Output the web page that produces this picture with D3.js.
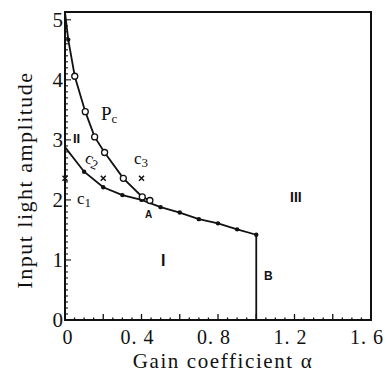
<!DOCTYPE html>
<html>
<head>
<meta charset="utf-8">
<script src="https://cdn.jsdelivr.net/npm/d3@7"></script>
<style>
  body { margin: 0; background: #fff; }
  svg { display: block; }
  text { font-family: "Liberation Serif", "DejaVu Serif", serif; fill: #111; }
  .lbl { font-family: "Liberation Sans", Arial, sans-serif; font-weight: bold; }
</style>
</head>
<body>
<svg id="chart"></svg>
<script>
// critical input amplitude curve Pc (open circles)
const pcAlpha = [0, 0.017, 0.051, 0.106, 0.155, 0.207, 0.305, 0.404, 0.444];
const pcAmp   = [5.13, 4.67, 4.06, 3.47, 3.05, 2.79, 2.36, 2.05, 1.99];

// lower boundary C1 (filled dots), ends at B
const c1Alpha = [0, 0.1, 0.2, 0.3, 0.4, 0.5, 0.6, 0.7, 0.8, 0.9, 1.0];
const c1Amp   = [2.88, 2.47, 2.21, 2.08, 2.0, 1.88, 1.79, 1.68, 1.61, 1.51, 1.42];

// crosses
const crossAlpha = [0, 0.2, 0.4];
const crossAmp   = [2.36, 2.36, 2.36];

const xTickLabels = [0, 0.4, 0.8, 1.2, 1.6];
const yTickLabels = [0, 1, 2, 3, 4, 5];

const width = 387, height = 372;
const margin = {top: 12, right: 16, bottom: 52, left: 65};

const svg = d3.select('#chart')
    .attr('width', width)
    .attr('height', height);

const x = d3.scaleLinear().domain([0, 1.6]).range([margin.left, width - margin.right]);
const y = d3.scaleLinear().domain([0, 5.13]).range([height - margin.bottom, margin.top]);

const ink = '#111';

// frame
svg.append('rect')
    .attr('x', x(0)).attr('y', y(5.13))
    .attr('width', x(1.6) - x(0)).attr('height', y(0) - y(5.13))
    .attr('fill', 'none').attr('stroke', ink).attr('stroke-width', 2);

// ticks pointing inward
const xMinor = d3.range(0.05, 1.6, 0.05);
svg.append('g').selectAll('line').data(xMinor).enter().append('line')
    .attr('x1', d => x(d)).attr('x2', d => x(d))
    .attr('y1', y(0))
    .attr('y2', d => y(0) - (Math.abs(d / 0.2 - Math.round(d / 0.2)) < 0.01 ? 6 : 2.5))
    .attr('stroke', ink).attr('stroke-width', 1.3);

const yMinor = d3.range(0.1, 5.05, 0.1);
svg.append('g').selectAll('line').data(yMinor).enter().append('line')
    .attr('y1', d => y(d)).attr('y2', d => y(d))
    .attr('x1', x(0))
    .attr('x2', d => x(0) + (Math.abs(d - Math.round(d)) < 0.01 ? 6 : 3))
    .attr('stroke', ink).attr('stroke-width', 1.1);

// tick labels
svg.append('g').selectAll('text').data(xTickLabels).enter().append('text')
    .attr('x', d => x(d))
    .attr('dx', d => d ? -4 : 3)
    .attr('y', 344)
    .attr('text-anchor', 'middle')
    .attr('font-size', 20)
    .attr('letter-spacing', 1)
    .text(d => d === 0 ? '0' : d.toFixed(1).replace('.', '. '));

svg.append('g').selectAll('text').data(yTickLabels).enter().append('text')
    .attr('x', 63)
    .attr('y', d => y(d) + 7)
    .attr('text-anchor', 'end')
    .attr('font-size', 21)
    .text(d => d);

// axis titles
svg.append('text')
    .attr('x', 223).attr('y', 368)
    .attr('text-anchor', 'middle')
    .attr('font-size', 21)
    .attr('letter-spacing', 1.6)
    .text('Gain coefficient α');

svg.append('text')
    .attr('transform', 'translate(32,180) rotate(-90)')
    .attr('text-anchor', 'middle')
    .attr('font-size', 22)
    .attr('letter-spacing', 1.5)
    .text('Input light amplitude');

const line = d3.line().x(d => x(d[0])).y(d => y(d[1]));

const pcData = d3.zip(pcAlpha, pcAmp);
const c1Data = d3.zip(c1Alpha, c1Amp);

svg.append('path').datum(pcData)
    .attr('d', line)
    .attr('fill', 'none').attr('stroke', ink).attr('stroke-width', 1.8);

svg.append('path').datum(c1Data)
    .attr('d', line)
    .attr('fill', 'none').attr('stroke', ink).attr('stroke-width', 1.8);

// boundary at B down to the axis
const last = c1Data[c1Data.length - 1];
svg.append('path').datum([last, [last[0], 0]])
    .attr('d', line)
    .attr('fill', 'none').attr('stroke', ink).attr('stroke-width', 1.8);

// markers
svg.append('g').selectAll('circle').data(c1Data.slice(1)).enter().append('circle')
    .attr('cx', d => x(d[0])).attr('cy', d => y(d[1]))
    .attr('r', 2.2).attr('fill', ink);

svg.append('circle')
    .attr('cx', x(pcData[1][0])).attr('cy', y(pcData[1][1]))
    .attr('r', 2.2).attr('fill', ink);

svg.append('g').selectAll('circle').data(pcData.slice(2)).enter().append('circle')
    .attr('cx', d => x(d[0])).attr('cy', d => y(d[1]))
    .attr('r', 3).attr('fill', '#fff').attr('stroke', ink).attr('stroke-width', 1.3);

const cross = d3.zip(crossAlpha, crossAmp);
svg.append('g').selectAll('path').data(cross).enter().append('path')
    .attr('d', d => {
        const cx = x(d[0]), cy = y(d[1]), s = 2.5;
        return `M${cx - s},${cy - s}L${cx + s},${cy + s}M${cx - s},${cy + s}L${cx + s},${cy - s}`;
    })
    .attr('stroke', ink).attr('stroke-width', 1.5);

// annotations
const pc = svg.append('text').attr('x', 101).attr('y', 120).attr('font-size', 19);
pc.append('tspan').text('P');
pc.append('tspan').attr('font-size', 13).attr('dy', 3).text('c');

svg.append('text').attr('class', 'lbl').attr('x', 73).attr('y', 143).attr('font-size', 13).text('II');

const c2 = svg.append('text').attr('transform', 'translate(84,162) rotate(22)').attr('font-size', 17);
c2.append('tspan').text('c');
c2.append('tspan').attr('font-size', 13).attr('dy', 3).text('2');

const c3 = svg.append('text').attr('x', 134).attr('y', 164).attr('font-size', 17);
c3.append('tspan').text('c');
c3.append('tspan').attr('font-size', 13).attr('dy', 3).text('3');

const c1 = svg.append('text').attr('x', 77).attr('y', 204).attr('font-size', 17);
c1.append('tspan').text('c');
c1.append('tspan').attr('font-size', 13).attr('dy', 3).text('1');

svg.append('text').attr('class', 'lbl').attr('x', 145).attr('y', 218).attr('font-size', 10).text('A');
svg.append('text').attr('class', 'lbl').attr('x', 161).attr('y', 266).attr('font-size', 16).text('I');
svg.append('text').attr('class', 'lbl').attr('x', 290).attr('y', 202).attr('font-size', 14).text('III');
svg.append('text').attr('class', 'lbl').attr('x', 264).attr('y', 280).attr('font-size', 12).text('B');
</script>
</body>
</html>
